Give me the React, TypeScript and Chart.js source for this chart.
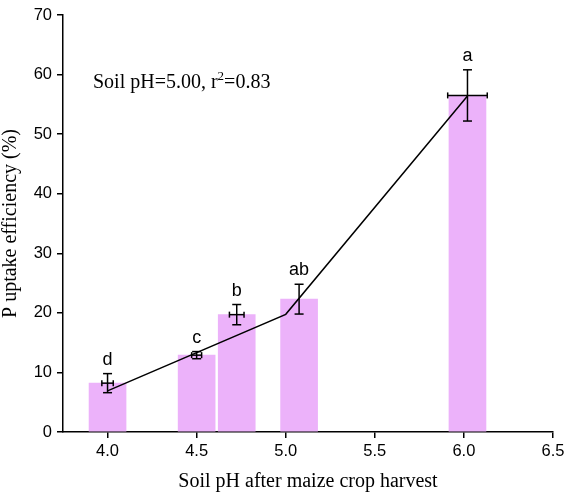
import React, { useEffect, useRef } from 'react';
import { Chart, registerables } from 'chart.js';

Chart.register(...registerables);

// Bars: soil pH groups (x), mean P uptake efficiency (%) and errors
const barX = [4.0, 4.5, 4.725, 5.075, 6.02];
const barY = [8.2, 12.9, 19.7, 22.3, 56.5];
const yErr = [1.6, 0.6, 1.7, 2.5, 4.3];
const xErr = [0.032, 0.028, 0.041, 0, 0.111];
const letters = ['d', 'c', 'b', 'ab', 'a'];

// Segmented regression line (breakpoint at pH 5.00)
const fitX = [4.0, 5.0, 6.02];
const fitY = [6.9, 19.75, 56.4];

const xTicks = [4.0, 4.5, 5.0, 5.5, 6.0, 6.5];
const yTicks = [0, 10, 20, 30, 40, 50, 60, 70];

const annotationMain = 'Soil pH=5.00, r';
const annotationSup = '2';
const annotationEnd = '=0.83';

const SANS = '"Liberation Sans", Arial, sans-serif';
const SERIF = '"Liberation Serif", "Times New Roman", serif';

const errorPlugin = {
  id: 'errorBarsAndLabels',
  afterDatasetsDraw(chart: any) {
    const { ctx, scales, chartArea } = chart;
    const x = scales.x;
    const y = scales.y;
    ctx.save();
    ctx.strokeStyle = '#000';
    ctx.fillStyle = '#000';
    ctx.lineWidth = 1.5;
    const seg = (x1: number, y1: number, x2: number, y2: number) => {
      ctx.beginPath();
      ctx.moveTo(x1, y1);
      ctx.lineTo(x2, y2);
      ctx.stroke();
    };
    barX.forEach((bx, i) => {
      const px = x.getPixelForValue(bx);
      const top = y.getPixelForValue(barY[i] + yErr[i]);
      const bot = y.getPixelForValue(barY[i] - yErr[i]);
      const py = y.getPixelForValue(barY[i]);
      seg(px, top, px, bot);
      seg(px - 4.5, top, px + 4.5, top);
      seg(px - 4.5, bot, px + 4.5, bot);
      if (xErr[i] > 0) {
        const l = x.getPixelForValue(bx - xErr[i]);
        const r = x.getPixelForValue(bx + xErr[i]);
        seg(l, py, r, py);
        seg(l, py - 3, l, py + 3);
        seg(r, py - 3, r, py + 3);
      }
      ctx.font = `18px ${SANS}`;
      ctx.textAlign = 'center';
      ctx.textBaseline = 'alphabetic';
      ctx.fillText(letters[i], px, top - 9);
    });
    // annotation
    const ax = chartArea.left + 30;
    const ay = chartArea.top + 73;
    ctx.textAlign = 'left';
    ctx.textBaseline = 'alphabetic';
    ctx.font = `20px ${SERIF}`;
    ctx.fillText(annotationMain, ax, ay);
    let w = ctx.measureText(annotationMain).width;
    ctx.font = `13px ${SERIF}`;
    ctx.fillText(annotationSup, ax + w, ay - 8);
    w += ctx.measureText(annotationSup).width;
    ctx.font = `20px ${SERIF}`;
    ctx.fillText(annotationEnd, ax + w, ay);
    ctx.restore();
  },
};

export default function App() {
  const ref = useRef<HTMLCanvasElement | null>(null);
  useEffect(() => {
    if (!ref.current) return;
    const chart = new Chart(ref.current, {
      type: 'bar',
      data: {
        datasets: [
          {
            type: 'line',
            data: fitX.map((v, i) => ({ x: v, y: fitY[i] })),
            borderColor: '#000',
            borderWidth: 1.5,
            pointRadius: 0,
            fill: false,
            tension: 0,
            order: 0,
          } as any,
          {
            type: 'bar',
            data: barX.map((v, i) => ({ x: v, y: barY[i] })),
            backgroundColor: 'rgb(236,178,250)',
            borderWidth: 0,
            barThickness: 37,
            order: 1,
          } as any,
        ],
      },
      options: {
        responsive: false,
        animation: false,
        layout: { padding: { left: 0, right: 12, top: 15, bottom: 0 } },
        plugins: {
          legend: { display: false },
          tooltip: { enabled: false },
        },
        scales: {
          x: {
            type: 'linear',
            min: 3.75,
            max: 6.5,
            offset: false,
            afterBuildTicks: (s: any) => {
              s.ticks = xTicks.map((v) => ({ value: v }));
            },
            afterFit: (s: any) => {
              s.height = 64;
              s.paddingRight = 0;
              s.paddingLeft = 0;
            },
            ticks: {
              color: '#000',
              font: { family: SANS, size: 16.5 },
              padding: 4,
              maxRotation: 0,
              autoSkip: false,
              callback: (v: any) => Number(v).toFixed(1),
            },
            grid: {
              display: true,
              drawOnChartArea: false,
              drawTicks: true,
              tickLength: 6,
              color: '#000',
              lineWidth: 1.5,
              offset: false,
            },
            border: { display: true, color: '#000', width: 1.5 },
            title: {
              display: true,
              text: 'Soil pH after maize crop harvest',
              color: '#000',
              font: { family: SERIF, size: 20, lineHeight: 1 },
              padding: { top: 0, bottom: 4 },
            },
          },
          y: {
            type: 'linear',
            min: 0,
            max: 70,
            afterBuildTicks: (s: any) => {
              s.ticks = yTicks.map((v) => ({ value: v }));
            },
            afterFit: (s: any) => {
              s.width = 63;
              s.paddingTop = 0;
              s.paddingBottom = 0;
            },
            ticks: {
              color: '#000',
              font: { family: SANS, size: 16.5 },
              padding: 5,
            },
            grid: {
              display: true,
              drawOnChartArea: false,
              drawTicks: true,
              tickLength: 6,
              color: '#000',
              lineWidth: 1.5,
            },
            border: { display: true, color: '#000', width: 1.5 },
            title: {
              display: true,
              text: 'P uptake efficiency (%)',
              color: '#000',
              font: { family: SERIF, size: 20, lineHeight: 1 },
              padding: { top: 1, bottom: 0 },
            },
          },
        },
      },
      plugins: [errorPlugin],
    } as any);
    return () => chart.destroy();
  }, []);
  return (
    <canvas
      ref={ref}
      width={565}
      height={496}
      style={{ position: 'absolute', left: 0, top: 0, display: 'block' }}
    />
  );
}
